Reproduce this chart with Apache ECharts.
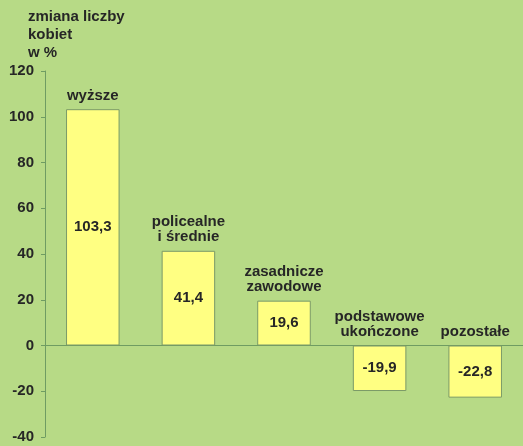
<!DOCTYPE html>
<html>
<head>
<meta charset="utf-8">
<script src="https://cdn.jsdelivr.net/npm/echarts@6/dist/echarts.min.js"></script>
<style>
  html, body { margin: 0; padding: 0; background: #b7da86; }
  #chart { width: 523px; height: 446px; }
</style>
</head>
<body>
<div id="chart"></div>
<script>
// dane
var categories = ['wyższe', 'policealne\ni średnie', 'zasadnicze\nzawodowe', 'podstawowe\nukończone', 'pozostałe'];
var values = [103.3, 41.4, 19.6, -19.9, -22.8];

var myChart = echarts.init(document.getElementById('chart'));

var axisColor = '#6f9c62';
var textColor = '#262626';
var font = 'Liberation Sans, Arial, sans-serif';

var option = {
    backgroundColor: '#b7da86',
    animation: false,
    title: {
        text: 'zmiana liczby\nkobiet\nw %',
        left: 23,
        top: 3,
        textStyle: {
            fontFamily: font,
            fontSize: 15,
            fontWeight: 'bold',
            color: textColor,
            lineHeight: 18
        }
    },
    grid: {     //pozycja wykresu
        left: 45,
        right: -6,
        top: 71,
        bottom: 9
    },
    xAxis: {
        type: 'category',
        data: categories,
        axisLine: {
            lineStyle: { color: axisColor, width: 1 }
        },
        axisTick: {
            length: 4,
            lineStyle: { color: axisColor }
        },
        axisLabel: { show: false }
    },
    yAxis: {
        type: 'value',
        min: -40,
        max: 120,
        interval: 20,
        axisLine: {
            show: true,
            lineStyle: { color: axisColor, width: 1 }
        },
        axisTick: {
            show: true,
            length: 4,
            lineStyle: { color: axisColor }
        },
        splitLine: { show: false },
        axisLabel: {
            color: textColor,
            fontFamily: font,
            fontSize: 15,
            fontWeight: 'bold',
            margin: 11
        }
    },
    series: [
        {
            type: 'bar',
            data: values,
            barWidth: '56%',
            itemStyle: {
                color: '#ffff82',
                borderColor: '#7a9a68',
                borderWidth: 1
            },
            label: {
                show: true,
                position: 'inside',
                color: textColor,
                fontFamily: font,
                fontSize: 15,
                fontWeight: 'bold',
                formatter: function (p) {
                    return String(p.value).replace('.', ',');
                }
            }
        },
        {
            // nazwy kategorii nad słupkami / nad osią
            type: 'bar',
            data: values.map(function (v) { return v > 0 ? v : 0; }),
            barWidth: '56%',
            barGap: '-100%',
            itemStyle: { color: 'transparent' },
            silent: true,
            label: {
                show: true,
                position: 'top',
                distance: 6,
                color: textColor,
                fontFamily: font,
                fontSize: 15,
                fontWeight: 'bold',
                lineHeight: 15,
                formatter: function (p) {
                    return p.name;
                }
            }
        }
    ]
};

myChart.setOption(option);
</script>
</body>
</html>
